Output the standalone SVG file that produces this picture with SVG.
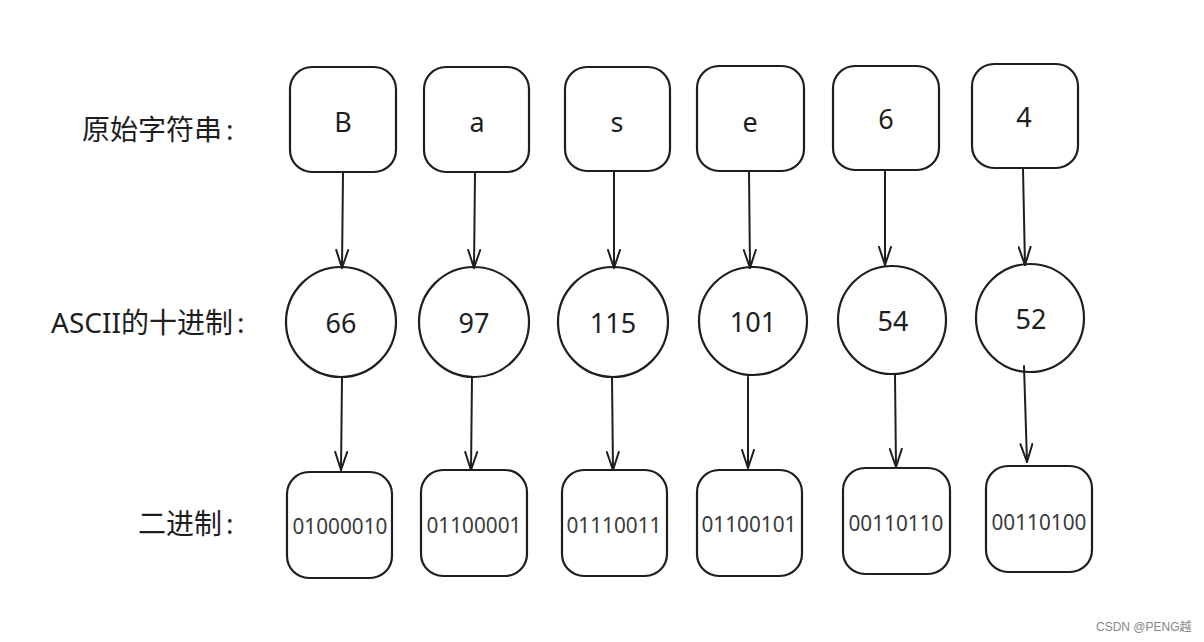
<svg xmlns="http://www.w3.org/2000/svg" width="1204" height="642" viewBox="0 0 1204 642">
<defs>
<marker id="ah" viewBox="0 0 20 14" refX="19" refY="7" markerWidth="20" markerHeight="14" markerUnits="userSpaceOnUse" orient="auto">
<path d="M1,1 L19,7 L1,13" fill="none" stroke="#1e1e1e" stroke-width="2" stroke-linecap="round" stroke-linejoin="round"/>
</marker>
</defs>
<style>
.shape{fill:none;stroke:#1e1e1e;stroke-width:2.2;stroke-linejoin:round}
.conn{fill:none;stroke:#1e1e1e;stroke-width:2;stroke-linecap:round}
.lbl{font-family:"Noto Sans","Noto Sans CJK SC",sans-serif;font-size:28px;fill:#1e1e1e}
.t1{font-family:"Noto Sans","Noto Sans CJK SC",sans-serif;font-size:27px;fill:#1e1e1e;text-anchor:middle}
.t2{font-family:"Noto Sans","Noto Sans CJK SC",sans-serif;font-size:27px;fill:#1e1e1e;text-anchor:middle}
.t3{font-family:"Noto Sans","Noto Sans CJK SC",sans-serif;font-size:22px;fill:#3a3a3a;text-anchor:middle}
.wm{font-family:"Liberation Sans","Noto Sans CJK SC",sans-serif;font-size:12px;fill:#888}
</style>
<rect width="1204" height="642" fill="#ffffff"/>
<g id="labels">
<text class="lbl" x="82" y="140">原始字符串<tspan dx="4">:</tspan></text>
<text class="lbl" x="51" y="333">ASCII的十进制<tspan dx="4">:</tspan></text>
<text class="lbl" x="138" y="534">二进制<tspan dx="4">:</tspan></text>
</g>
<g id="connectors">
<path class="conn" marker-end="url(#ah)" d="M343,173 L342,268"/>
<path class="conn" marker-end="url(#ah)" d="M475,173 L474,268"/>
<path class="conn" marker-end="url(#ah)" d="M614,172 L614,268"/>
<path class="conn" marker-end="url(#ah)" d="M749,172 L750,268"/>
<path class="conn" marker-end="url(#ah)" d="M885,171 L885,265"/>
<path class="conn" marker-end="url(#ah)" d="M1023,169 L1025,265"/>
<path class="conn" marker-end="url(#ah)" d="M342,377 L341,470"/>
<path class="conn" marker-end="url(#ah)" d="M472,377 L471,470"/>
<path class="conn" marker-end="url(#ah)" d="M612,377 L613,470"/>
<path class="conn" marker-end="url(#ah)" d="M748,377 L748,468"/>
<path class="conn" marker-end="url(#ah)" d="M895,375 L896,467"/>
<path class="conn" marker-end="url(#ah)" d="M1024,366 L1027,462"/>
</g>
<g id="node-B"><rect class="shape" x="290" y="67" width="106" height="105" rx="22"/><text class="t1" x="343" y="132">B</text></g>
<g id="node-a"><rect class="shape" x="424" y="67" width="105" height="105" rx="22"/><text class="t1" x="477" y="132">a</text></g>
<g id="node-s"><rect class="shape" x="565" y="67" width="105" height="104" rx="22"/><text class="t1" x="617" y="132">s</text></g>
<g id="node-e"><rect class="shape" x="697" y="66" width="107" height="105" rx="22"/><text class="t1" x="750" y="132">e</text></g>
<g id="node-6"><rect class="shape" x="833" y="66" width="106" height="104" rx="22"/><text class="t1" x="886" y="129">6</text></g>
<g id="node-4"><rect class="shape" x="972" y="64" width="106" height="104" rx="22"/><text class="t1" x="1024" y="127">4</text></g>
<g id="node-66"><circle class="shape" cx="341" cy="322" r="55"/><text class="t2" x="341" y="333">66</text></g>
<g id="node-97"><circle class="shape" cx="474" cy="322" r="55"/><text class="t2" x="474" y="333">97</text></g>
<g id="node-115"><circle class="shape" cx="613" cy="322" r="55"/><text class="t2" x="613" y="333">115</text></g>
<g id="node-101"><circle class="shape" cx="753" cy="321" r="54"/><text class="t2" x="753" y="332">101</text></g>
<g id="node-54"><circle class="shape" cx="892" cy="320" r="54"/><text class="t2" x="893" y="331">54</text></g>
<g id="node-52"><circle class="shape" cx="1030" cy="318" r="54"/><text class="t2" x="1031" y="329">52</text></g>
<g id="node-01000010"><rect class="shape" x="287" y="472" width="105" height="106" rx="22"/><text class="t3" x="340" y="534" textLength="95" lengthAdjust="spacingAndGlyphs">01000010</text></g>
<g id="node-01100001"><rect class="shape" x="421" y="470" width="106" height="106" rx="22"/><text class="t3" x="474" y="533" textLength="95" lengthAdjust="spacingAndGlyphs">01100001</text></g>
<g id="node-01110011"><rect class="shape" x="562" y="470" width="105" height="106" rx="22"/><text class="t3" x="614" y="533" textLength="95" lengthAdjust="spacingAndGlyphs">01110011</text></g>
<g id="node-01100101"><rect class="shape" x="697" y="470" width="105" height="106" rx="22"/><text class="t3" x="749" y="532" textLength="95" lengthAdjust="spacingAndGlyphs">01100101</text></g>
<g id="node-00110110"><rect class="shape" x="843" y="468" width="107" height="106" rx="22"/><text class="t3" x="896" y="531" textLength="95" lengthAdjust="spacingAndGlyphs">00110110</text></g>
<g id="node-00110100"><rect class="shape" x="986" y="466" width="106" height="106" rx="22"/><text class="t3" x="1039" y="530" textLength="95" lengthAdjust="spacingAndGlyphs">00110100</text></g>
<text class="wm" x="1096" y="631">CSDN @PENG越</text>
</svg>
